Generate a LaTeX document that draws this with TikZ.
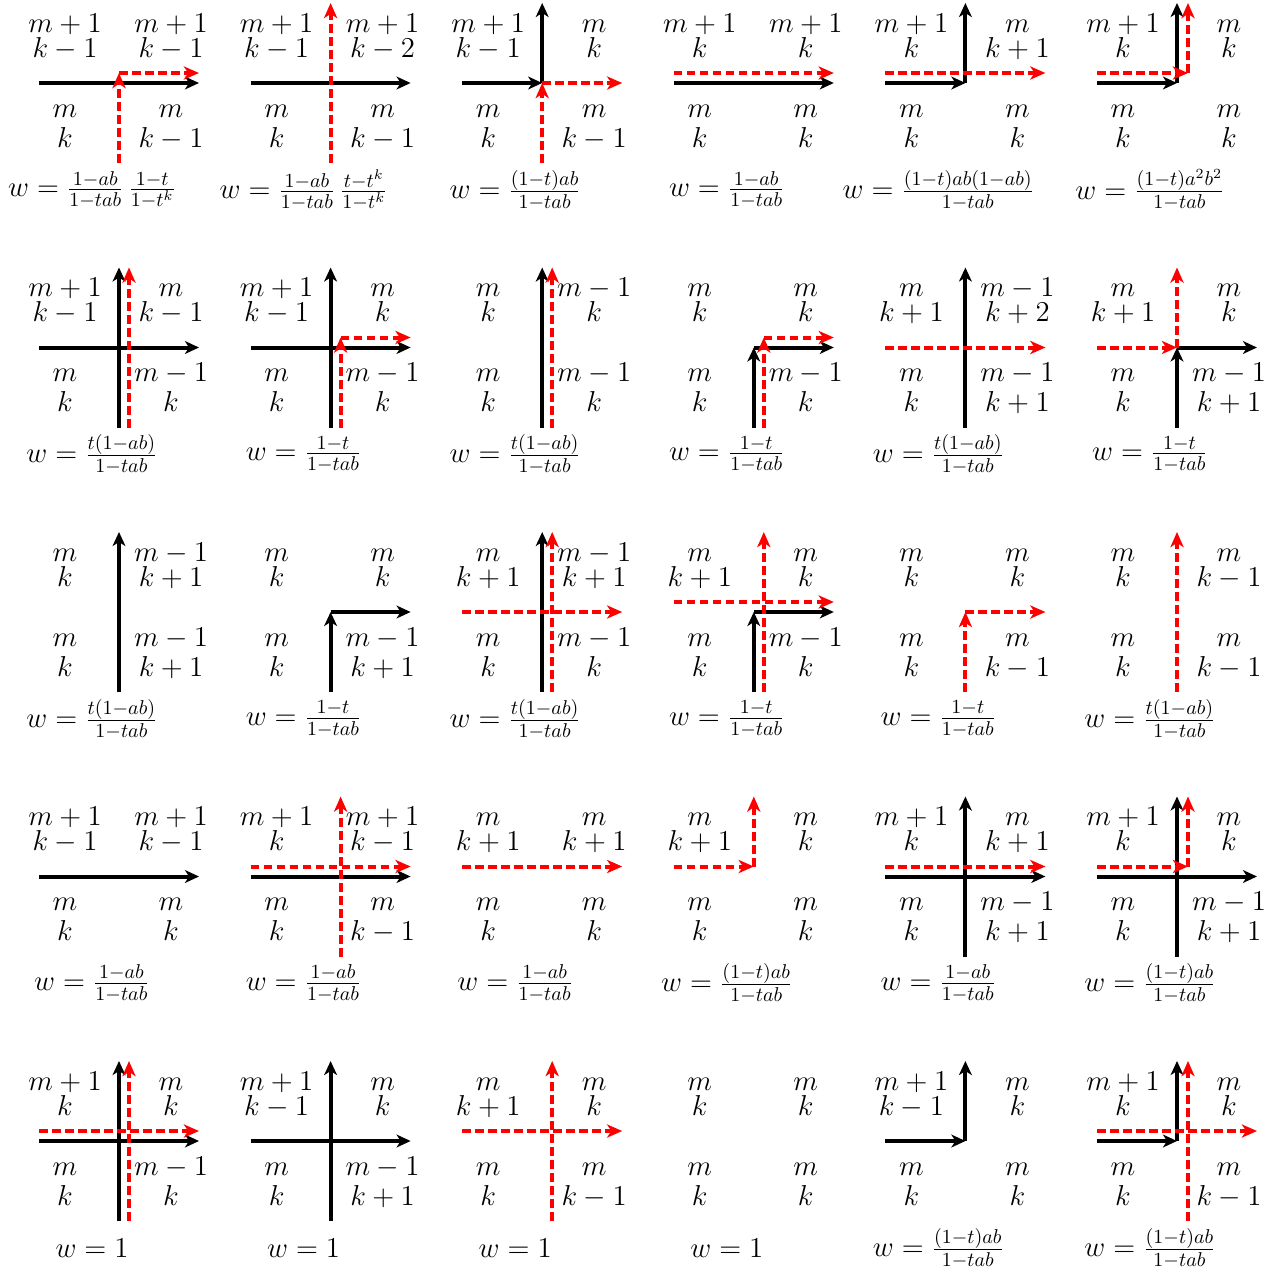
\documentclass[tikz,border=0pt]{standalone}
\usetikzlibrary{arrows.meta}
\newcounter{nd}
\tikzset{
  blk/.style={line width=2pt, draw=black, -{Stealth[length=7pt,width=6.4pt,inset=2pt]}},
  rd/.style={line width=2pt, draw=red, dash pattern=on 4.3pt off 2.2pt, -{Stealth[length=7.6pt,width=6.6pt,inset=2.2pt]}},
  lab/.style={anchor=base, inner sep=0pt, font=\fontsize{14.4}{17}\selectfont},
  wtn/.style={anchor=center, inner sep=0pt, font=\fontsize{14.4}{17}\selectfont},
}
\newcommand\lb[3]{\stepcounter{nd}\node[lab] (t\arabic{nd}) at (#1,#2) {$#3$};}
\newcommand\labs[8]{\lb{-54}{-51}{#1}\lb{-54}{-26}{#2}\lb{52}{-51}{#3}\lb{52}{-26}{#4}%
  \lb{-54}{34}{#5}\lb{-54}{64}{#6}\lb{52}{34}{#7}\lb{52}{64}{#8}}
\newcommand\wt[1]{\stepcounter{nd}\node[wtn] (w\arabic{nd}) at (-27,107) {$w = #1$};}
\newcommand\bH{\draw[blk] (-80,0) -- (80,0);}
\newcommand\bV{\draw[blk] (0,80) -- (0,-80);}
\newcommand\bLU{\draw[blk] (-80,0) -- (0,0); \draw[blk] (0,0) -- (0,-80);}
\newcommand\bBR{\draw[blk] (0,80) -- (0,0); \draw[blk] (0,0) -- (80,0);}
\newcommand\rH[1]{\draw[rd] (-80,#1) -- (80,#1);}
\newcommand\rV[1]{\draw[rd] (#1,80) -- (#1,-80);}
\newcommand\rLU[2]{\draw[rd] (-80,#2) -- (#1,#2); \draw[rd] (#1,#2) -- (#1,-80);}
\newcommand\rBR[2]{\draw[rd] (#1,80) -- (#1,#2); \draw[rd] (#1,#2) -- (80,#2);}
\newcommand\cellat[2]{\begin{scope}[shift={({119+211.6*(#1-1)},{83+264.5*(#2-1)})}]}
\newcommand\F[2]{\frac{#1}{#2}}
\begin{document}
\begin{tikzpicture}[x=0.5pt,y=-0.5pt]
\useasboundingbox (0,0) rectangle (1280,1275);
% ---------- Row 1
\cellat{1}{1}
 \labs{m+1}{k-1}{m+1}{k-1}{m}{k}{m}{k-1}
 \bH \rBR{0}{-10}
 \wt{\F{1-ab}{1-tab}\,\F{1-t}{1-t^k}}
\end{scope}
\cellat{2}{1}
 \labs{m+1}{k-1}{m+1}{k-2}{m}{k}{m}{k-1}
 \bH \rV{0}
 \wt{\F{1-ab}{1-tab}\,\F{t-t^k}{1-t^k}}
\end{scope}
\cellat{3}{1}
 \labs{m+1}{k-1}{m}{k}{m}{k}{m}{k-1}
 \bLU \rBR{0}{0}
 \wt{\F{(1-t)ab}{1-tab}}
\end{scope}
\cellat{4}{1}
 \labs{m+1}{k}{m+1}{k}{m}{k}{m}{k}
 \bH \rH{-10}
 \wt{\F{1-ab}{1-tab}}
\end{scope}
\cellat{5}{1}
 \labs{m+1}{k}{m}{k+1}{m}{k}{m}{k}
 \bLU \rH{-10}
 \wt{\F{(1-t)ab(1-ab)}{1-tab}}
\end{scope}
\cellat{6}{1}
 \labs{m+1}{k}{m}{k}{m}{k}{m}{k}
 \bLU \rLU{11}{-10}
 \wt{\F{(1-t)a^2b^2}{1-tab}}
\end{scope}
% ---------- Row 2
\cellat{1}{2}
 \labs{m+1}{k-1}{m}{k-1}{m}{k}{m-1}{k}
 \bH \bV \rV{10}
 \wt{\F{t(1-ab)}{1-tab}}
\end{scope}
\cellat{2}{2}
 \labs{m+1}{k-1}{m}{k}{m}{k}{m-1}{k}
 \bH \bV \rBR{10}{-10}
 \wt{\F{1-t}{1-tab}}
\end{scope}
\cellat{3}{2}
 \labs{m}{k}{m-1}{k}{m}{k}{m-1}{k}
 \bV \rV{10}
 \wt{\F{t(1-ab)}{1-tab}}
\end{scope}
\cellat{4}{2}
 \labs{m}{k}{m}{k}{m}{k}{m-1}{k}
 \bBR \rBR{10}{-10}
 \wt{\F{1-t}{1-tab}}
\end{scope}
\cellat{5}{2}
 \labs{m}{k+1}{m-1}{k+2}{m}{k}{m-1}{k+1}
 \bV \rH{0}
 \wt{\F{t(1-ab)}{1-tab}}
\end{scope}
\cellat{6}{2}
 \labs{m}{k+1}{m}{k}{m}{k}{m-1}{k+1}
 \bBR \rLU{0}{0}
 \wt{\F{1-t}{1-tab}}
\end{scope}
% ---------- Row 3
\cellat{1}{3}
 \labs{m}{k}{m-1}{k+1}{m}{k}{m-1}{k+1}
 \bV
 \wt{\F{t(1-ab)}{1-tab}}
\end{scope}
\cellat{2}{3}
 \labs{m}{k}{m}{k}{m}{k}{m-1}{k+1}
 \bBR
 \wt{\F{1-t}{1-tab}}
\end{scope}
\cellat{3}{3}
 \labs{m}{k+1}{m-1}{k+1}{m}{k}{m-1}{k}
 \bV \rH{0} \rV{10}
 \wt{\F{t(1-ab)}{1-tab}}
\end{scope}
\cellat{4}{3}
 \labs{m}{k+1}{m}{k}{m}{k}{m-1}{k}
 \bBR \rH{-10} \rV{10}
 \wt{\F{1-t}{1-tab}}
\end{scope}
\cellat{5}{3}
 \labs{m}{k}{m}{k}{m}{k}{m}{k-1}
 \rBR{0}{0}
 \wt{\F{1-t}{1-tab}}
\end{scope}
\cellat{6}{3}
 \labs{m}{k}{m}{k-1}{m}{k}{m}{k-1}
 \rV{0}
 \wt{\F{t(1-ab)}{1-tab}}
\end{scope}
% ---------- Row 4
\cellat{1}{4}
 \labs{m+1}{k-1}{m+1}{k-1}{m}{k}{m}{k}
 \bH
 \wt{\F{1-ab}{1-tab}}
\end{scope}
\cellat{2}{4}
 \labs{m+1}{k}{m+1}{k-1}{m}{k}{m}{k-1}
 \bH \rH{-10} \rV{10}
 \wt{\F{1-ab}{1-tab}}
\end{scope}
\cellat{3}{4}
 \labs{m}{k+1}{m}{k+1}{m}{k}{m}{k}
 \rH{-10}
 \wt{\F{1-ab}{1-tab}}
\end{scope}
\cellat{4}{4}
 \labs{m}{k+1}{m}{k}{m}{k}{m}{k}
 \rLU{0}{-10}
 \wt{\F{(1-t)ab}{1-tab}}
\end{scope}
\cellat{5}{4}
 \labs{m+1}{k}{m}{k+1}{m}{k}{m-1}{k+1}
 \bH \bV \rH{-10}
 \wt{\F{1-ab}{1-tab}}
\end{scope}
\cellat{6}{4}
 \labs{m+1}{k}{m}{k}{m}{k}{m-1}{k+1}
 \bH \bV \rLU{11}{-10}
 \wt{\F{(1-t)ab}{1-tab}}
\end{scope}
% ---------- Row 5
\cellat{1}{5}
 \labs{m+1}{k}{m}{k}{m}{k}{m-1}{k}
 \bH \bV \rH{-10} \rV{10}
 \wt{1}
\end{scope}
\cellat{2}{5}
 \labs{m+1}{k-1}{m}{k}{m}{k}{m-1}{k+1}
 \bH \bV
 \wt{1}
\end{scope}
\cellat{3}{5}
 \labs{m}{k+1}{m}{k}{m}{k}{m}{k-1}
 \rH{-10} \rV{10}
 \wt{1}
\end{scope}
\cellat{4}{5}
 \labs{m}{k}{m}{k}{m}{k}{m}{k}
 \wt{1}
\end{scope}
\cellat{5}{5}
 \labs{m+1}{k-1}{m}{k}{m}{k}{m}{k}
 \bLU
 \wt{\F{(1-t)ab}{1-tab}}
\end{scope}
\cellat{6}{5}
 \labs{m+1}{k}{m}{k}{m}{k}{m}{k-1}
 \bLU \rH{-10} \rV{11}
 \wt{\F{(1-t)ab}{1-tab}}
\end{scope}
\end{tikzpicture}
\end{document}
